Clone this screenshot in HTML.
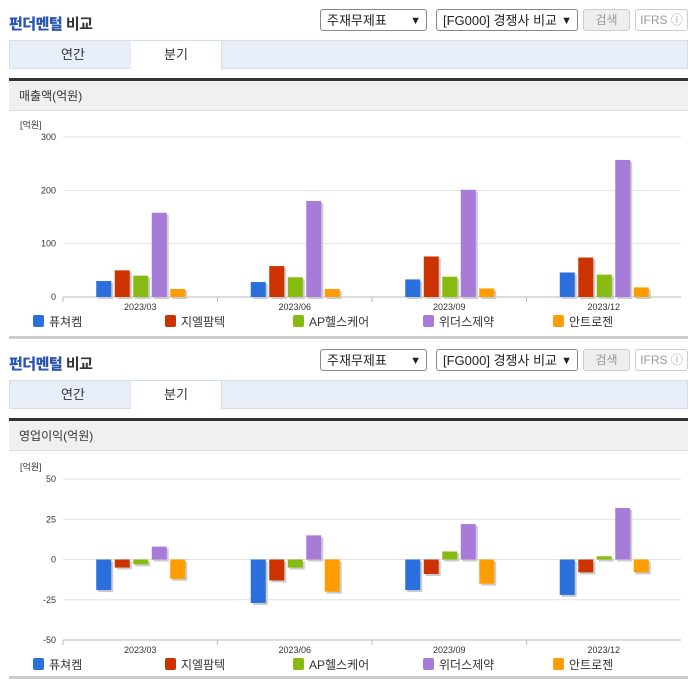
<!DOCTYPE html>
<html><head><meta charset="utf-8"><style>
body{margin:0;width:696px;height:684px;background:#fff;font-family:"Liberation Sans","Noto Sans CJK KR",sans-serif;position:relative;overflow:hidden}
.sec{position:absolute;left:0;width:696px;height:340px}
.title{position:absolute;left:9px;top:13px;font-size:15px;color:#333;font-weight:bold;letter-spacing:-0.5px}
.title b{color:#2a55b0}
.sel{position:absolute;top:9px;height:22px;border:1px solid #888;border-radius:3px;font-size:13px;line-height:22px;padding-left:6px;box-sizing:border-box;color:#222;background:#fff}
.sel span{position:absolute;right:5px;top:0;font-size:11px}
.btn{position:absolute;top:9px;height:22px;border:1px solid #ccc;border-radius:3px;font-size:12px;line-height:20px;text-align:center;box-sizing:border-box;color:#999}
.tabs{position:absolute;left:9px;top:40px;width:679px;height:29px;background:#e8eef7;border:1px solid #d6dde8;box-sizing:border-box}
.tab{position:absolute;top:0;height:28px;width:90px;text-align:center;line-height:28px;font-size:13px;color:#333}
.dark{position:absolute;left:9px;top:78px;width:679px;height:3px;background:#333}
.hdr{position:absolute;left:9px;top:81px;width:679px;height:30px;background:#f0f0f0;border-bottom:1px solid #ddd;font-size:12px;line-height:30px;padding-left:10px;box-sizing:border-box;color:#333}
.bot{position:absolute;left:9px;top:336px;width:679px;height:3px;background:#ccc}
svg{position:absolute;left:0;top:112px}
</style></head><body>
<div class="sec" style="top:0">
<div class="title"><b>펀더멘털</b> 비교</div>
<div class="sel" style="left:320px;width:107px">주재무제표<span>▼</span></div>
<div class="sel" style="left:436px;width:142px">[FG000] 경쟁사 비교<span>▼</span></div>
<div class="btn" style="left:583px;width:47px;background:#eee">검색</div>
<div class="btn" style="left:635px;width:53px">IFRS ⓘ</div>
<div class="tabs">
<div class="tab" style="left:18px">연간</div>
<div class="tab" style="left:121px;background:#fff;border-right:1px solid #d6dde8;height:29px">분기</div></div>
<div class="dark"></div>
<div class="hdr">매출액(억원)</div>
<svg id="c1" width="696" height="225"></svg>
<div class="bot"></div>
</div>
<div class="sec" style="top:340px">
<div class="title"><b>펀더멘털</b> 비교</div>
<div class="sel" style="left:320px;width:107px">주재무제표<span>▼</span></div>
<div class="sel" style="left:436px;width:142px">[FG000] 경쟁사 비교<span>▼</span></div>
<div class="btn" style="left:583px;width:47px;background:#eee">검색</div>
<div class="btn" style="left:635px;width:53px">IFRS ⓘ</div>
<div class="tabs">
<div class="tab" style="left:18px">연간</div>
<div class="tab" style="left:121px;background:#fff;border-right:1px solid #d6dde8;height:29px">분기</div></div>
<div class="dark"></div>
<div class="hdr">영업이익(억원)</div>
<svg id="c2" width="696" height="225"></svg>
<div class="bot"></div>
</div>
<script>
const categories=["2023/03","2023/06","2023/09","2023/12"];
const seriesNames=["퓨쳐켐","지엘팜텍","AP헬스케어","위더스제약","안트로젠"];
const colors=["#2a6fdb","#cc3300","#88bb11","#a77bd8","#ff9d00"];
const revenue=[[30,28,33,46],[50,58,76,74],[40,37,38,42],[158,180,201,257],[15,15,16,18]];
const revenueTicks=[0,100,200,300];
const opProfit=[[-19,-27,-19,-22],[-5,-13,-9,-8],[-3,-5,5,2],[8,15,22,32],[-12,-20,-15,-8]];
const opTicks=[-50,-25,0,25,50];
const NS="http://www.w3.org/2000/svg";
function mk(svg,t,a,txt){const e=document.createElementNS(NS,t);for(const k in a)e.setAttribute(k,a[k]);if(txt!=null)e.textContent=txt;svg.appendChild(e);return e;}
function draw(id,data,ticks,top,bottom){
 const svg=document.getElementById(id);
 const x0=63,x1=681,mn=ticks[0],mx=ticks[ticks.length-1];
 const y=v=>bottom-(v-mn)/(mx-mn)*(bottom-top);
 let t=mk(svg,'text',{x:20,y:top-9,'font-size':9,fill:'#333'},'[억원]');
 
 ticks.forEach(v=>{
  let l=mk(svg,'line',{x1:x0,x2:x1,y1:y(v),y2:y(v),stroke:'#e2e2e2'});
  
  let tx=mk(svg,'text',{x:56,y:y(v)+3,'font-size':9,fill:'#333','text-anchor':'end'},v);
  
 });
 let ax=mk(svg,'line',{x1:x0,x2:x1,y1:bottom,y2:bottom,stroke:'#bbb'});
 
 const cw=(x1-x0)/categories.length;
 categories.forEach((c,i)=>{
  const cx=x0+cw*(i+0.5);
  let tk=mk(svg,'line',{x1:x0+cw*i,x2:x0+cw*i,y1:bottom,y2:bottom+5,stroke:'#bbb'});
  
  let lb=mk(svg,'text',{x:cx,y:bottom+13,'font-size':9,fill:'#333','text-anchor':'middle'},c);
  
  data.forEach((s,j)=>{
   const bx=cx-44+j*18.5,v=s[i];
   const yt=Math.min(y(v),y(0)),h=Math.abs(y(v)-y(0));
   let sh=mk(svg,'rect',{x:bx+2,y:yt+2,width:15,height:h,fill:'#ccc'});
   
   let r=mk(svg,'rect',{x:bx,y:yt,width:15,height:h,fill:colors[j]});
   
  });
 });
 const lx=[33,165,293,423,553];
 seriesNames.forEach((n,j)=>{
  let sq=mk(svg,'rect',{x:lx[j],y:bottom+18,width:11,height:12,rx:2,fill:colors[j]});
  
  let tx=mk(svg,'text',{x:lx[j]+16,y:bottom+29,'font-size':12,fill:'#333'},n);
  
 });
}
draw('c1',revenue,revenueTicks,25,185);
draw('c2',opProfit,opTicks,27,188);
</script>
</body></html>
